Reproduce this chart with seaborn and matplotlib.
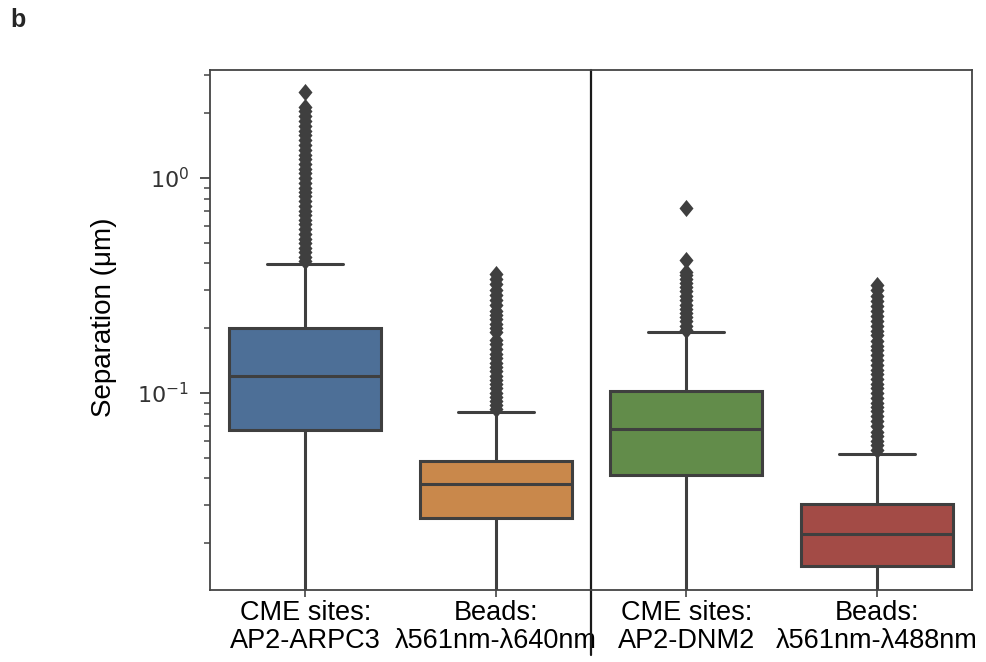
import numpy as np
import pandas as pd
import matplotlib
matplotlib.use("Agg")
import matplotlib.pyplot as plt
from matplotlib.path import Path
import seaborn as sns

# ---------------- data ----------------
categories = ["CME sites:\nAP2-ARPC3", "Beads:\nλ561nm-λ640nm",
              "CME sites:\nAP2-DNM2", "Beads:\nλ561nm-λ488nm"]
box_colors = ["#4d6f97", "#c9884b", "#628c4a", "#a34b46"]

whisker_low = [0.004, 0.003, 0.005, 0.002]
q1 = [0.0673, 0.0263, 0.0416, 0.0156]
median = [0.120, 0.0376, 0.068, 0.0220]
q3 = [0.200, 0.0483, 0.102, 0.0303]
whisker_high = [0.397, 0.0813, 0.191, 0.0519]

fliers_arpc3 = [0.41, 0.43, 0.45, 0.47, 0.50, 0.52, 0.55, 0.58, 0.61, 0.64,
                0.67, 0.70, 0.74, 0.78, 0.82, 0.86, 0.90, 0.95, 1.00, 1.05,
                1.10, 1.16, 1.22, 1.28, 1.35, 1.42, 1.50, 1.58, 1.66, 1.75,
                1.85, 1.95, 2.05, 2.15, 2.50]
fliers_beads640 = [0.084, 0.088, 0.092, 0.096, 0.100, 0.105, 0.110, 0.115,
                   0.120, 0.126, 0.132, 0.138, 0.145, 0.152, 0.160, 0.168,
                   0.176, 0.192, 0.200, 0.210, 0.220, 0.230, 0.240, 0.255,
                   0.270, 0.285, 0.300, 0.320, 0.340, 0.356]
fliers_dnm2 = [0.197, 0.205, 0.215, 0.225, 0.235, 0.245, 0.257, 0.270,
               0.283, 0.297, 0.310, 0.325, 0.340, 0.355, 0.367, 0.416, 0.727]
fliers_beads488 = [0.054, 0.057, 0.060, 0.063, 0.066, 0.070, 0.074, 0.078,
                   0.082, 0.086, 0.090, 0.095, 0.100, 0.105, 0.110, 0.116,
                   0.122, 0.128, 0.135, 0.142, 0.150, 0.158, 0.166, 0.175,
                   0.185, 0.195, 0.205, 0.215, 0.227, 0.240, 0.253, 0.267,
                   0.282, 0.300, 0.316]
fliers = [fliers_arpc3, fliers_beads640, fliers_dnm2, fliers_beads488]

y_ticks = [0.1, 1.0]
y_limits = (0.0121, 3.18)
ylabel = "Separation (μm)"
panel_letter = "b"

# ---------------- build long tables ----------------
box_rows = []
for c, lo, a, m, b, hi in zip(categories, whisker_low, q1, median, q3, whisker_high):
    for v in (lo, a, m, b, hi):
        box_rows.append({"group": c, "value": v})
box_df = pd.DataFrame(box_rows)

flier_rows = []
for c, fl in zip(categories, fliers):
    for v in fl:
        flier_rows.append({"group": c, "value": v})
flier_df = pd.DataFrame(flier_rows)

# ---------------- style ----------------
sns.set_style("ticks")
plt.rcParams["font.family"] = ["Liberation Sans", "DejaVu Sans"]
plt.rcParams["mathtext.fontset"] = "dejavusans"

fig = plt.figure(figsize=(9.87, 6.62), dpi=100)
ax = fig.add_axes([0.2128, 0.1088, 0.772, 0.7855])
ax.set_yscale("log")

line_col = "#3f3f3f"
sns.boxplot(data=box_df, x="group", y="value", hue="group", order=categories,
            hue_order=categories, palette=box_colors, saturation=1,
            whis=np.inf, showfliers=False, width=0.8, linewidth=2.2,
            linecolor=line_col, legend=False, ax=ax)

diamond = Path([(0, 1), (0.82, 0), (0, -1), (-0.82, 0), (0, 1)],
               [Path.MOVETO, Path.LINETO, Path.LINETO, Path.LINETO, Path.CLOSEPOLY])
sns.stripplot(data=flier_df, x="group", y="value", order=categories,
              jitter=False, marker=diamond, color=line_col, size=12.3,
              linewidth=0, ax=ax)

ax.set_ylim(*y_limits)
ax.set_xlim(-0.5, 3.5)
ax.set_yticks(y_ticks)
ax.yaxis.set_major_formatter(matplotlib.ticker.LogFormatterSciNotation())
ax.tick_params(axis="y", which="major", length=7, width=1.3, color="#444",
               labelsize=16, labelcolor="#333", pad=8)
ax.tick_params(axis="y", which="minor", length=4.5, width=1.1, color="#444")
for lab in ax.get_yticklabels():
    lab.set_fontfamily(["DejaVu Sans"])
ax.tick_params(axis="x", length=5, width=1.2, color="#444", labelsize=19.5,
               labelcolor="black", pad=2)
ax.set_xticks(range(len(categories)))
ax.set_xticklabels(categories, linespacing=1.12)
ax.set_xlabel("")
ax.set_ylabel(ylabel, fontsize=20, labelpad=14, color="black")
ax.yaxis.set_label_coords(-0.122, 0.525)

for sp in ax.spines.values():
    sp.set_visible(True)
    sp.set_color("#444")
    sp.set_linewidth(1.3)

# divider between the two experiments
ax.axvline(1.5, ymin=-0.125, ymax=1.0, clip_on=False, color="#1a1a1a", lw=1.6)

fig.text(0.010, 0.952, panel_letter, fontsize=18, fontweight="bold",
         ha="left", va="bottom")

fig.savefig("out.png", dpi=100)
